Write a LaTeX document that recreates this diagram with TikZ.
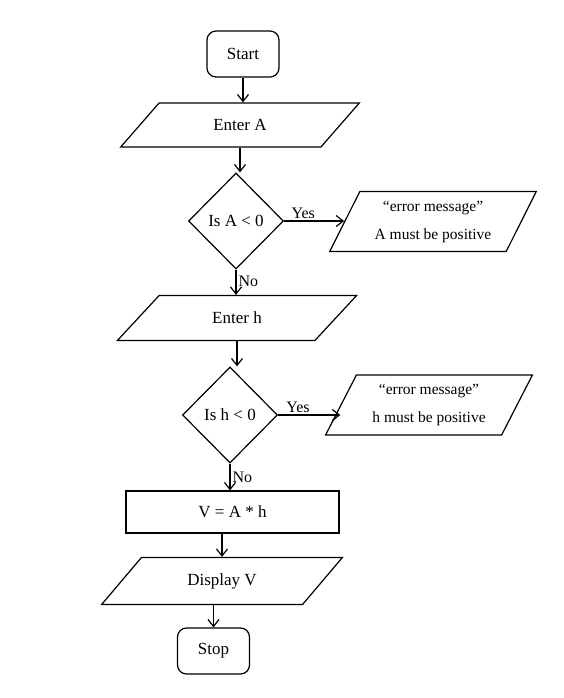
\documentclass[tikz,border=0pt]{standalone}
\usepackage{fontspec}
\setmainfont{Liberation Serif}
\usetikzlibrary{shapes.geometric, arrows.meta, positioning}
\tikzset{
  term/.style={draw, line width=1.2pt, rounded corners=9pt, minimum width=72pt, minimum height=46pt, inner sep=0pt, font=\fontsize{17}{19}\selectfont},
  io/.style={draw, line width=1.2pt, trapezium, trapezium left angle=42, trapezium right angle=138, trapezium stretches=true, minimum height=44pt, inner sep=0pt, font=\fontsize{17}{19}\selectfont},
  errio/.style={draw, line width=1.2pt, trapezium, trapezium left angle=60, trapezium right angle=120, trapezium stretches=true, minimum width=207pt, minimum height=60pt, inner sep=0pt, align=center, font=\fontsize{15.5}{28}\selectfont},
  decision/.style={draw, line width=1.2pt, diamond, minimum width=95pt, minimum height=96pt, inner sep=0pt, font=\fontsize{17}{19}\selectfont},
  procbox/.style={draw, line width=1.2pt, rectangle, minimum width=213pt, minimum height=42pt, inner sep=0pt, font=\fontsize{17}{19}\selectfont},
  arr/.style={line width=1.2pt, -{Straight Barb[length=7pt, width=11pt]}},
  lbl/.style={font=\fontsize{16}{18}\selectfont, inner sep=2pt}
}

\begin{document}
\begin{tikzpicture}[x=1pt, y=-1pt]
\useasboundingbox (0,0) rectangle (563,698);

\node[term] (start) at (243,54) {Start};
\node[io, minimum width=239pt] (enterA) at (240,125) {Enter A};
\node[decision] (isA) at (236,221) {Is A < 0};
\node[errio] (errA) at (433,221.5) {“error message”\\A must be positive};
\node[io, minimum width=240pt, minimum height=45pt] (enterh) at (237,318) {Enter h};
\node[decision] (ish) at (230,415) {Is h < 0};
\node[errio] (errh) at (429,405) {“error message”\\h must be positive};
\node[procbox] (vol) at (232.5,512) {V = A * h};
\node[io, minimum width=241pt, minimum height=47pt] (disp) at (222,581) {Display V};
\node[term] (stop) at (213.5,651) {Stop};

% main line
\draw[arr] (start.south) -- (start.south |- enterA.north);
\draw[arr] (enterA.south) -- (enterA.south |- isA.north);
\draw[arr] (isA.south) -- (isA.south |- enterh.north) node[lbl, right, pos=0.45] {No};
\draw[arr] (enterh.south) -- (enterh.south |- ish.north);
\draw[arr] (ish.south) -- (ish.south |- vol.north) node[lbl, right, pos=0.5] {No};
\draw[arr] (disp.north |- vol.south) -- (disp.north);
\draw[arr] (stop.north |- disp.south) -- (stop.north);

% error branches
\draw[arr] (isA.east) -- (isA.east -| errA.west) node[lbl, above, pos=0.32] {Yes};
\draw[arr] (ish.east) -- (ish.east -| errh.west) node[lbl, above, pos=0.32] {Yes};
\end{tikzpicture}
\end{document}
